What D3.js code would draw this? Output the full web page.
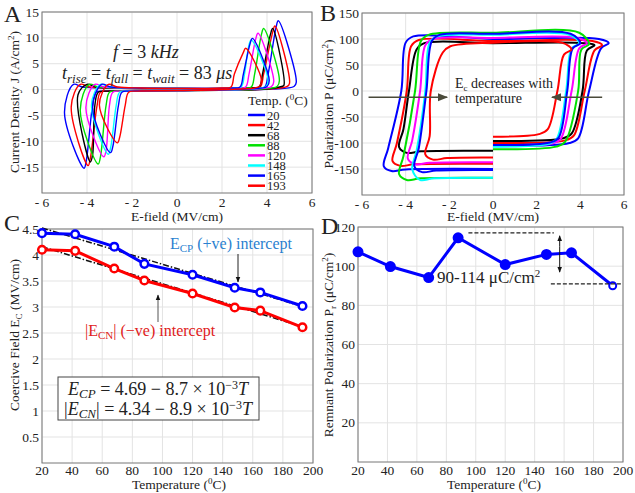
<!DOCTYPE html>
<html>
<head>
<meta charset="utf-8">
<script src="https://cdn.jsdelivr.net/npm/d3@7"></script>
<style>
  body { margin: 0; background: #fff; }
  svg text { font-family: "Liberation Serif", "DejaVu Serif", serif; fill: #222; }
  .math { font-style: italic; }
</style>
</head>
<body>
<svg id="fig" width="635" height="493" font-family="Liberation Serif, DejaVu Serif, serif"></svg>
<script>
// ---------- data ----------
var temps = [20, 42, 68, 88, 120, 148, 165, 193];
var colors = ["#0000ff", "#ff0000", "#000000", "#00e000", "#ff00ff", "#00ffff", "#0000ff", "#ff0000"];

// panel A: switching current loops (key points per temperature)
var posOnset = [3.9, 3.7, 3.65, 3.3, 3.05, 2.85, 2.8, 2.4];
var posPeakE = [4.5, 4.35, 4.25, 3.85, 3.6, 3.3, 3.35, 3.05];
var posPeakJ = [13.3, 12.3, 11.8, 11.8, 10.9, 9.6, 9.9, 8.0];
var posMaxE = [5.3, 5.0, 4.75, 4.55, 4.3, 4.05, 4.1, 3.75];
var posMaxJ = [1.4, 1.2, 0.8, 1.7, 1.5, 1.8, 1.8, 1.9];
var negOnset = [-3.6, -3.4, -3.5, -3.0, -2.85, -2.55, -2.45, -2.15];
var negPeakE = [-4.13, -3.95, -3.85, -3.5, -3.25, -3.05, -2.95, -2.65];
var negPeakJ = [-15.2, -14.7, -14.0, -14.4, -13.0, -12.5, -12.2, -10.3];
var negMinE = [-5.0, -4.7, -4.4, -4.3, -4.05, -3.8, -3.75, -3.45];
var negMinJ = [-4.5, -3.3, -1.0, -4.0, -3.5, -3.0, -3.5, -3.0];

// panel B: P-E loops (key points per temperature)
var pStart = [-105, -100, -96, -112, -106, -107, -104, -88];
var ecPos = [4.4, 4.2, 4.1, 3.9, 3.6, 3.35, 3.4, 2.95];
var eBotRight = [3.9, 3.7, 3.6, 3.3, 3.1, 2.9, 3.0, 2.5];
var eMax = [5.3, 5.0, 4.65, 4.4, 4.3, 3.95, 4.0, 3.6];
var pMax = [92, 88, 88, 90, 92, 92, 92, 80];
var pTop = [100, 96, 92, 112, 102, 108, 110, 93];
var eTopLeft = [-4.0, -3.75, -3.5, -3.3, -3.1, -2.9, -2.8, -2.3];
var pTopLeft = [105, 98, 92, 108, 100, 105, 108, 86];
var ecNeg = [-4.2, -3.95, -3.85, -3.57, -3.34, -3.1, -3.05, -2.85];
var eMin = [-5.0, -4.6, -4.3, -4.3, -3.9, -3.7, -3.6, -3.1];
var pBotLeft = [-145, -135, -108, -160, -130, -150, -145, -122];
var pEnd = [-150, -140, -115, -167, -137, -167, -152, -128];

// panel C: coercive field
var ecpVals = [4.42, 4.40, 4.16, 3.83, 3.62, 3.37, 3.28, 3.02];
var ecnVals = [4.10, 4.08, 3.74, 3.51, 3.26, 2.99, 2.93, 2.61];
var ecpFit = [[20, 4.52], [193, 3.01]];
var ecnFit = [[20, 4.16], [193, 2.62]];

// panel D: remnant polarization
var prVals = [107.3, 99.8, 94.2, 114.5, 100.8, 106.0, 106.8, 90.0];

var tTicks = [20, 40, 60, 80, 100, 120, 140, 160, 180, 200];
var eTicks = [-6, -4, -2, 0, 2, 4, 6];

var svg = d3.select("#fig");

// ---------- helpers ----------
function panel(box, xDom, yDom, xTicks, yTicks, xFmt, yFmt, tickGap) {
    var x = d3.scaleLinear().domain(xDom).range([box.x0, box.x1]);
    var y = d3.scaleLinear().domain(yDom).range([box.y1, box.y0]);
    var g = svg.append("g");
    g.selectAll(".gx").data(xTicks).enter().append("line")
        .attr("x1", d => x(d)).attr("x2", d => x(d))
        .attr("y1", box.y0).attr("y2", box.y1)
        .attr("stroke", "#e3e3e3").attr("stroke-width", 1);
    g.selectAll(".gy").data(yTicks).enter().append("line")
        .attr("x1", box.x0).attr("x2", box.x1)
        .attr("y1", d => y(d)).attr("y2", d => y(d))
        .attr("stroke", "#e3e3e3").attr("stroke-width", 1);
    g.append("rect")
        .attr("x", box.x0).attr("y", box.y0)
        .attr("width", box.x1 - box.x0).attr("height", box.y1 - box.y0)
        .attr("fill", "none").attr("stroke", "#777").attr("stroke-width", 1);
    g.selectAll(".tx").data(xTicks).enter().append("text")
        .attr("x", d => x(d)).attr("y", box.y1 + tickGap)
        .attr("text-anchor", "middle").attr("font-size", 13.5)
        .text(xFmt);
    g.selectAll(".ty").data(yTicks).enter().append("text")
        .attr("x", box.x0 - 3).attr("y", d => y(d) + 4.5)
        .attr("text-anchor", "end").attr("font-size", 13.5)
        .text(yFmt);
    return {x: x, y: y, g: g};
}

function eFmt(d) { return d < 0 ? "- " + (-d) : "" + d; }

var line = d3.line().curve(d3.curveCatmullRom.alpha(0.5));

// ---------- panel A ----------
var A = panel({x0: 42, x1: 312, y0: 12, y1: 193}, [-6, 6], [-20, 15], eTicks,
    [-15, -10, -5, 0, 5, 10, 15], eFmt, d => d, 14);

temps.forEach(function(t, i) {
    var pts = [
        [0, 0.2], [posOnset[i] - 0.4, 0.3], [posOnset[i], 0.5], [posOnset[i] + 0.15, 3],
        [posPeakE[i] - 0.1, posPeakJ[i] * 0.9], [posPeakE[i], posPeakJ[i]],
        [posMaxE[i], posMaxJ[i]], [posMaxE[i] - 0.1, 0.6], [posOnset[i] + 0.3, 0.1],
        [0, -0.2], [negOnset[i] + 0.4, -0.3], [negOnset[i], -0.5], [negOnset[i] - 0.15, -3],
        [negPeakE[i] + 0.1, negPeakJ[i] * 0.9], [negPeakE[i], negPeakJ[i]],
        [negMinE[i], negMinJ[i]], [negMinE[i] + 0.4, 1.0], [negMinE[i] + 0.8, 0.5],
        [negOnset[i] + 0.6, 0.3], [0, 0.2]
    ];
    A.g.append("path")
        .attr("d", line(pts.map(p => [A.x(p[0]), A.y(p[1])])))
        .attr("fill", "none").attr("stroke", colors[i]).attr("stroke-width", 1.4);
});

// annotations A
var fa = svg.append("text").attr("x", 113).attr("y", 58).attr("font-size", 18).attr("class", "math");
fa.append("tspan").text("f");
fa.append("tspan").attr("font-style", "normal").text(" = 3 ");
fa.append("tspan").text("kHz");

var tr = svg.append("text").attr("x", 62).attr("y", 79).attr("font-size", 18);
[["t", "rise"], ["t", "fall"], ["t", "wait"]].forEach(function(p, k) {
    tr.append("tspan").attr("font-style", "italic").text(p[0]);
    tr.append("tspan").attr("font-style", "italic").attr("font-size", 13).attr("dy", 4).text(p[1]);
    tr.append("tspan").attr("dy", -4).text(" = ");
});
tr.append("tspan").text("83 ");
tr.append("tspan").attr("font-style", "italic").text("μs");

// legend A
var lt = svg.append("text").attr("x", 248).attr("y", 105).attr("font-size", 13.5);
lt.append("tspan").text("Temp. (");
lt.append("tspan").attr("font-size", 9).attr("dy", -5).text("0");
lt.append("tspan").attr("dy", 5).text("C)");
temps.forEach(function(t, i) {
    var yy = 115 + i * 10.1;
    svg.append("line").attr("x1", 248).attr("x2", 265).attr("y1", yy).attr("y2", yy)
        .attr("stroke", colors[i]).attr("stroke-width", 2.5);
    svg.append("text").attr("x", 267).attr("y", yy + 4.5).attr("font-size", 12.5).text(t);
});

// ---------- panel B ----------
var B = panel({x0: 362, x1: 624, y0: 13, y1: 195}, [-6, 6], [-200, 150], eTicks,
    [-150, -100, -50, 0, 50, 100, 150], eFmt, d => d, 14);

temps.forEach(function(t, i) {
    var pts = [
        [0, pStart[i]], [eBotRight[i] - 0.4, pStart[i] + 5], [eBotRight[i], pStart[i] + 14],
        [ecPos[i], 0], [eMax[i] - 0.35, pMax[i] - 10], [eMax[i], pMax[i]],
        [eMax[i] - 0.45, pTop[i]], [0, pTop[i]], [eTopLeft[i] + 0.35, pTopLeft[i]],
        [eTopLeft[i], pTopLeft[i] - 12], [ecNeg[i], 0], [eMin[i] + 0.2, pBotLeft[i] + 35],
        [eMin[i], pBotLeft[i]], [eMin[i] + 0.35, pEnd[i] - 4], [eMin[i] + 1.0, pEnd[i] - 1],
        [0, pEnd[i]]
    ];
    B.g.append("path")
        .attr("d", line(pts.map(p => [B.x(p[0]), B.y(p[1])])))
        .attr("fill", "none").attr("stroke", colors[i]).attr("stroke-width", 2);
});

var eb = svg.append("text").attr("x", 455).attr("y", 88).attr("font-size", 14);
eb.append("tspan").text("E");
eb.append("tspan").attr("font-size", 9).attr("dy", 3).text("c");
eb.append("tspan").attr("dy", -3).text(" decreases  with");
svg.append("text").attr("x", 455).attr("y", 103).attr("font-size", 14).text("temperature");

svg.append("defs").html(
    '<marker id="ahG" viewBox="0 0 10 10" refX="9" refY="5" markerWidth="7" markerHeight="7" orient="auto-start-reverse">' +
    '<path d="M0,1 L10,5 L0,9 z" fill="#4a4a3a"/></marker>' +
    '<marker id="ahK" viewBox="0 0 10 10" refX="9" refY="5" markerWidth="6" markerHeight="6" orient="auto-start-reverse">' +
    '<path d="M0,1 L10,5 L0,9 z" fill="#111"/></marker>');
svg.append("line").attr("x1", B.x(-5.7)).attr("x2", B.x(-2.1)).attr("y1", B.y(-12)).attr("y2", B.y(-12))
    .attr("stroke", "#4a4a3a").attr("stroke-width", 1.5).attr("marker-end", "url(#ahG)");
svg.append("line").attr("x1", B.x(5.0)).attr("x2", B.x(2.7)).attr("y1", B.y(-12)).attr("y2", B.y(-12))
    .attr("stroke", "#4a4a3a").attr("stroke-width", 1.5).attr("marker-end", "url(#ahG)");

// ---------- panel C ----------
var C = panel({x0: 42, x1: 313, y0: 229, y1: 463}, [20, 200], [0, 4.5], tTicks,
    [0.5, 1, 1.5, 2, 2.5, 3, 3.5, 4, 4.5], d => d, d => d, 12);

[[ecpFit, "#111"], [ecnFit, "#111"]].forEach(function(f) {
    svg.append("line").attr("x1", C.x(f[0][0][0])).attr("y1", C.y(f[0][0][1]))
        .attr("x2", C.x(f[0][1][0])).attr("y2", C.y(f[0][1][1]))
        .attr("stroke", f[1]).attr("stroke-width", 1.5).attr("stroke-dasharray", "6,2,1.5,2");
});
[[ecpVals, "#0000ff"], [ecnVals, "#ff0000"]].forEach(function(s) {
    var pts = temps.map((t, i) => [C.x(t), C.y(s[0][i])]);
    svg.append("path").attr("d", d3.line()(pts)).attr("fill", "none")
        .attr("stroke", s[1]).attr("stroke-width", 3);
    svg.selectAll(null).data(pts).enter().append("circle")
        .attr("cx", d => d[0]).attr("cy", d => d[1]).attr("r", 3.8)
        .attr("fill", "#fff").attr("stroke", s[1]).attr("stroke-width", 2.5);
});

var cp = svg.append("text").attr("x", 170).attr("y", 249).attr("font-size", 16).style("fill", "#2a7fd0");
cp.append("tspan").text("E");
cp.append("tspan").attr("font-size", 11).attr("dy", 3).text("CP");
cp.append("tspan").attr("dy", -3).text(" (+ve) intercept");
var cn = svg.append("text").attr("x", 85).attr("y", 336).attr("font-size", 16).style("fill", "#e02020");
cn.append("tspan").text("|E");
cn.append("tspan").attr("font-size", 11).attr("dy", 3).text("CN");
cn.append("tspan").attr("dy", -3).text("| (\u2212ve) intercept");
svg.append("line").attr("x1", 238).attr("x2", 238).attr("y1", 254).attr("y2", 282)
    .attr("stroke", "#222").attr("stroke-width", 1).attr("marker-end", "url(#ahK)");
svg.append("line").attr("x1", 158).attr("x2", 158).attr("y1", 322).attr("y2", 295)
    .attr("stroke", "#555").attr("stroke-width", 1).attr("marker-end", "url(#ahK)");

svg.append("rect").attr("x", 58).attr("y", 377).attr("width", 201).attr("height", 43)
    .attr("fill", "#fff").attr("stroke", "#444").attr("stroke-width", 1);
function eqLine(yy, sub, bars, c0) {
    var e = svg.append("text").attr("x", 158).attr("y", yy).attr("text-anchor", "middle").attr("font-size", 18);
    e.append("tspan").text(bars ? "|" : "");
    e.append("tspan").attr("font-style", "italic").text("E");
    e.append("tspan").attr("font-style", "italic").attr("font-size", 13).attr("dy", 3).text(sub);
    e.append("tspan").attr("dy", -3).text((bars ? "|" : "") + " = " + c0 + " \u2212 " + (bars ? "8.9" : "8.7") + " \u00d7 10");
    e.append("tspan").attr("font-size", 12).attr("dy", -6).text("\u22123");
    e.append("tspan").attr("dy", 6).attr("font-style", "italic").text("T");
}
eqLine(395, "CP", false, "4.69");
eqLine(415, "CN", true, "4.34");

// ---------- panel D ----------
var D = panel({x0: 358, x1: 623, y0: 227, y1: 462}, [20, 200], [0, 120], tTicks,
    [20, 40, 60, 80, 100, 120], d => d, d => d, 13);
var dPts = temps.map((t, i) => [D.x(t), D.y(prVals[i])]);
svg.append("path").attr("d", d3.line()(dPts)).attr("fill", "none")
    .attr("stroke", "#0000ff").attr("stroke-width", 3);
svg.selectAll(null).data(dPts).enter().append("circle")
    .attr("cx", d => d[0]).attr("cy", d => d[1]).attr("r", (d, i) => i === 7 ? 3.5 : 4.5)
    .attr("fill", (d, i) => i === 7 ? "#fff" : "#0000ff")
    .attr("stroke", "#0000ff").attr("stroke-width", 2);

svg.append("line").attr("x1", D.x(95)).attr("x2", D.x(153)).attr("y1", D.y(117)).attr("y2", D.y(117))
    .attr("stroke", "#222").attr("stroke-width", 1.2).attr("stroke-dasharray", "4,2");
svg.append("line").attr("x1", D.x(151)).attr("x2", D.x(199)).attr("y1", D.y(91)).attr("y2", D.y(91))
    .attr("stroke", "#222").attr("stroke-width", 1.2).attr("stroke-dasharray", "4,2");
svg.append("line").attr("x1", D.x(157)).attr("x2", D.x(157)).attr("y1", D.y(110)).attr("y2", D.y(115.5))
    .attr("stroke", "#111").attr("stroke-width", 1).attr("marker-end", "url(#ahK)");
svg.append("line").attr("x1", D.x(157)).attr("x2", D.x(157)).attr("y1", D.y(110)).attr("y2", D.y(97))
    .attr("stroke", "#111").attr("stroke-width", 1).attr("marker-end", "url(#ahK)");
var pr = svg.append("text").attr("x", 437).attr("y", 283).attr("font-size", 17);
pr.append("tspan").text("90-114 μC/cm");
pr.append("tspan").attr("font-size", 11).attr("dy", -6).text("2");

// ---------- axis labels ----------
function xLabel(cx, yy, txt, sup) {
    var t = svg.append("text").attr("x", cx).attr("y", yy).attr("text-anchor", "middle").attr("font-size", 13.5);
    t.append("tspan").text(txt);
    if (sup) {
        t.append("tspan").attr("font-size", 9).attr("dy", -5).text("0");
        t.append("tspan").attr("dy", 5).text("C)");
    }
}
xLabel(177, 221, "E-field (MV/cm)");
xLabel(493, 221, "E-field (MV/cm)");
xLabel(179, 489, "Temperature  (", true);
xLabel(494, 489, "Temperature  (", true);

function yLabel(xx, cy, parts) {
    var t = svg.append("text").attr("transform", "translate(" + xx + "," + cy + ") rotate(-90)")
        .attr("text-anchor", "middle").attr("font-size", 13.5);
    parts.forEach(function(p) {
        var s = t.append("tspan").text(p[0]);
        if (p[1] === "sup") s.attr("font-size", 9).attr("dy", -5);
        if (p[1] === "sub") s.attr("font-size", 9).attr("dy", 3);
        if (p[2]) s.attr("dy", p[2]);
    });
}
yLabel(19, 102, [["Current Density J (A/cm"], ["2", "sup"], [")", null, 5]]);
yLabel(333, 104, [["Polarization P (μC/cm"], ["2", "sup"], [")", null, 5]]);
yLabel(19, 335, [["Coercive Field E"], ["C", "sub"], [" (MV/cm)", null, -3]]);
yLabel(333, 345, [["Remnant  Polarization P"], ["r", "sub"], [" (μC/cm", null, -3], ["2", "sup"], [")", null, 5]]);

// panel letters
[["A", 4, 22], ["B", 320, 21], ["C", 4, 231], ["D", 321, 234]].forEach(function(l) {
    svg.append("text").attr("x", l[1]).attr("y", l[2]).attr("font-size", 24).text(l[0]);
});
</script>
</body>
</html>
